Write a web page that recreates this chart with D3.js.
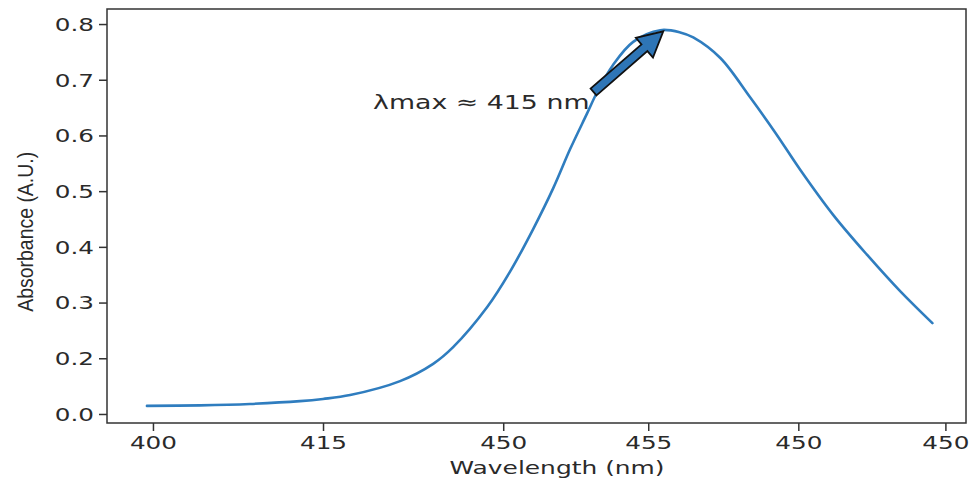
<!DOCTYPE html>
<html>
<head>
<meta charset="utf-8">
<script src="https://cdn.jsdelivr.net/npm/d3@7"></script>
<style>
  body { margin: 0; background: #fff; }
  svg { display: block; }
  .axis text { font-family: "DejaVu Sans", sans-serif; font-size: 17.5px; fill: #2a2a2a; }
  .axis path, .axis line { stroke: #333; stroke-width: 1.5; }
</style>
</head>
<body>
<div id="chart"></div>
<script>
// x is a position along the axis; the tick labels are as printed on the figure
var xTickPos = [0, 1.073, 2.21, 3.125, 4.072, 5.0];
var xTickLabels = ["400", "415", "450", "455", "450", "450"];

var yTickValues = [0, 0.2, 0.3, 0.4, 0.5, 0.6, 0.7, 0.8];
var yTickLabels = ["0.0", "0.2", "0.3", "0.4", "0.5", "0.6", "0.7", "0.8"];

// spectrum
var pos = [-0.038, 0.297, 0.612, 0.928, 1.073, 1.244, 1.559, 1.768, 1.894, 2.109,
  2.254, 2.399, 2.525, 2.633, 2.74, 2.803, 2.904, 3.03, 3.201, 3.327,
  3.409, 3.58, 3.769, 3.927, 4.085, 4.293, 4.508, 4.716, 4.918];
var absorbance = [0.029, 0.031, 0.036, 0.046, 0.054, 0.068, 0.118, 0.180, 0.220, 0.292,
  0.356, 0.432, 0.505, 0.576, 0.640, 0.678, 0.727, 0.768, 0.789, 0.785,
  0.776, 0.739, 0.668, 0.605, 0.538, 0.457, 0.385, 0.320, 0.263];

var annotText = "λmax ≈ 415 nm";
var annotAt = [1.389, 0.647];
var arrowFrom = [2.78, 0.678];
var arrowTo = [3.22, 0.787];

var width = 976, height = 483;
var margin = {top: 9, right: 10, bottom: 60, left: 107};
var w = width - margin.left - margin.right,
    h = height - margin.top - margin.bottom;
var stretch = 1.41;

var svg = d3.select("#chart").append("svg").attr("width", width).attr("height", height);
var g = svg.append("g").attr("transform", "translate(" + margin.left + "," + margin.top + ")");

// the printed axis gives the 0.0 - 0.2 gap the height of one step
function visual(v) { return v < 0.2 ? 0.1 + v / 2 : v; }

var x = d3.scaleLinear().domain([-0.29, 5.13]).range([0, w]);
var y = d3.scaleLinear().domain([0.0838, 0.827]).range([h, 0]);

// frame
g.append("rect")
  .attr("width", w).attr("height", h)
  .attr("fill", "none").attr("stroke", "#333").attr("stroke-width", 1.5);

var xAxis = g.append("g")
  .attr("class", "axis")
  .attr("transform", "translate(0," + h + ")")
  .call(d3.axisBottom(x).tickValues(xTickPos).tickSize(8).tickSizeOuter(0)
    .tickFormat(function(d, i) { return xTickLabels[i]; }));
xAxis.select(".domain").remove();
xAxis.selectAll("text")
  .attr("y", 0).attr("dy", 0)
  .attr("transform", "translate(0,26) scale(" + stretch + ",1)");

var yAxis = g.append("g")
  .attr("class", "axis")
  .call(d3.axisLeft(y).tickValues(yTickValues.map(visual)).tickSize(8).tickSizeOuter(0)
    .tickFormat(function(d, i) { return yTickLabels[i]; }));
yAxis.select(".domain").remove();
yAxis.selectAll("text")
  .attr("x", 0).attr("dy", "0.36em")
  .attr("transform", "translate(-13,0) scale(" + stretch + ",1)");

// axis titles
svg.append("text")
  .attr("x", margin.left + x(2.55)).attr("y", 474)
  .attr("text-anchor", "middle")
  .attr("font-family", "DejaVu Sans, sans-serif")
  .attr("font-size", "17px")
  .attr("fill", "#2a2a2a")
  .attr("textLength", 215).attr("lengthAdjust", "spacingAndGlyphs")
  .text("Wavelength (nm)");

svg.append("text")
  .attr("transform", "translate(33," + (margin.top + y(0.427)) + ") rotate(-90)")
  .attr("text-anchor", "middle")
  .attr("font-family", "Liberation Sans Narrow, Liberation Sans, sans-serif")
  .attr("font-size", "21.5px")
  .attr("fill", "#2a2a2a")
  .attr("textLength", 160).attr("lengthAdjust", "spacingAndGlyphs")
  .text("Absorbance (A.U.)");

// spectrum
var line = d3.line()
  .x(function(d) { return x(d[0]); })
  .y(function(d) { return y(visual(d[1])); })
  .curve(d3.curveCatmullRom.alpha(0.5));

g.append("path")
  .datum(d3.zip(pos, absorbance))
  .attr("fill", "none")
  .attr("stroke", "#2f7dbf")
  .attr("stroke-width", 2.6)
  .attr("stroke-linejoin", "round")
  .attr("stroke-linecap", "round")
  .attr("d", line);

// annotation arrow
var p0 = [x(arrowFrom[0]), y(visual(arrowFrom[1]))],
    p1 = [x(arrowTo[0]), y(visual(arrowTo[1]))];
var dx = p1[0] - p0[0], dy = p1[1] - p0[1], len = Math.sqrt(dx * dx + dy * dy);
var ux = dx / len, uy = dy / len, nx = -uy, ny = ux;
var shaft = 4.5, headW = 13, headL = 25;
var bx = p1[0] - ux * headL, by = p1[1] - uy * headL;
var pts = [
  [p0[0] + nx * shaft, p0[1] + ny * shaft],
  [bx + nx * shaft, by + ny * shaft],
  [bx + nx * headW, by + ny * headW],
  p1,
  [bx - nx * headW, by - ny * headW],
  [bx - nx * shaft, by - ny * shaft],
  [p0[0] - nx * shaft, p0[1] - ny * shaft]
];
g.append("path")
  .attr("d", "M" + pts.join("L") + "Z")
  .attr("fill", "#2e75b6")
  .attr("stroke", "#111")
  .attr("stroke-width", 1.8)
  .attr("stroke-linejoin", "miter");

g.append("text")
  .attr("transform", "translate(" + x(annotAt[0]) + "," + y(visual(annotAt[1])) + ") scale(" + stretch + ",1)")
  .attr("font-family", "DejaVu Sans, sans-serif")
  .attr("font-size", "19px")
  .attr("fill", "#2a2a2a")
  .text(annotText);
</script>
</body>
</html>
